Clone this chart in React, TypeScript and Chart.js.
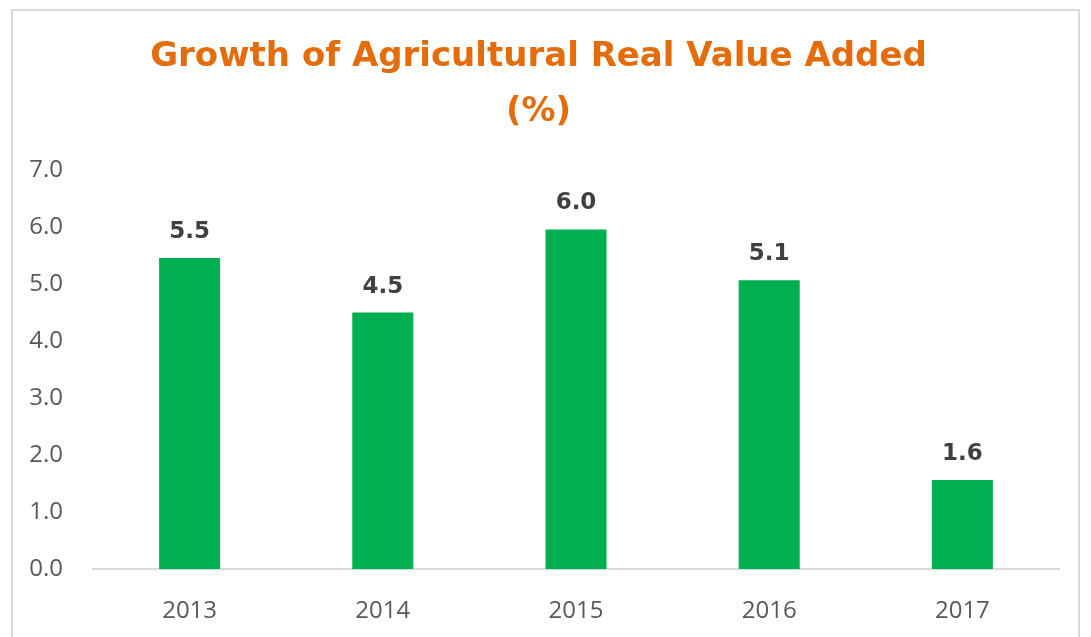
import React, { useEffect, useRef } from "react";
import { Chart, registerables } from "chart.js";

Chart.register(...registerables);

const categories = ["2013", "2014", "2015", "2016", "2017"];
const growthValues = [5.46, 4.5, 5.96, 5.07, 1.56];
const titleLines = ["Growth of Agricultural Real Value Added", "(%)"];

const valueLabelPlugin = {
  id: "valueLabels",
  afterDatasetsDraw(chart: any) {
    const ctx = chart.ctx;
    const meta = chart.getDatasetMeta(0);
    ctx.save();
    ctx.font = "bold 23px 'DejaVu Sans', sans-serif";
    ctx.fillStyle = "#404040";
    ctx.textAlign = "center";
    ctx.textBaseline = "middle";
    meta.data.forEach((bar: any, i: number) => {
      const v = chart.data.datasets[0].data[i] as number;
      ctx.fillText(v.toFixed(1), bar.x, bar.y - 26);
    });
    ctx.restore();
  },
};

export default function App() {
  const ref = useRef<HTMLCanvasElement>(null);
  useEffect(() => {
    if (!ref.current) return;
    const chart = new Chart(ref.current, {
      type: "bar",
      data: {
        labels: categories,
        datasets: [
          {
            data: growthValues,
            backgroundColor: "#00B050",
            borderWidth: 0,
            barPercentage: 0.316,
            categoryPercentage: 1,
          },
        ],
      },
      options: {
        animation: false,
        responsive: false,
        maintainAspectRatio: false,
        layout: { padding: { left: 18, right: 32, top: 0, bottom: 0 } },
        plugins: {
          legend: { display: false },
          tooltip: { enabled: false },
          title: {
            display: true,
            text: titleLines,
            color: "#E46C0A",
            font: { family: "'Comic Sans MS', 'DejaVu Sans', sans-serif", size: 34, weight: "bold", lineHeight: 1.62 },
            padding: { top: 30, bottom: 30 },
          },
        },
        scales: {
          x: {
            grid: { display: false, drawTicks: false },
            border: { display: true, color: "#d9d9d9", width: 2 },
            ticks: {
              color: "#595959",
              font: { family: "'Open Sans', sans-serif", size: 24 },
              padding: 28,
            },
            afterFit(axis: any) {
              axis.height = 68;
            },
          },
          y: {
            min: 0,
            max: 7,
            grid: { display: false, drawTicks: false },
            border: { display: false },
            ticks: {
              stepSize: 1,
              color: "#595959",
              font: { family: "'Open Sans', sans-serif", size: 24 },
              padding: 30,
              callback: (v: any) => Number(v).toFixed(1),
            },
            afterFit(axis: any) {
              axis.width = 75;
            },
          },
        },
      },
      plugins: [valueLabelPlugin],
    });
    return () => chart.destroy();
  }, []);

  return (
    <div style={{ position: "fixed", left: 0, top: 0, width: 1091, height: 637, background: "#fff", overflow: "hidden" }}>
      <div
        style={{
          position: "absolute",
          left: 11,
          top: 9,
          width: 1069,
          height: 660,
          border: "2px solid #d9d9d9",
          boxSizing: "border-box",
        }}
      />
      <canvas ref={ref} width={1091} height={637} style={{ position: "absolute", left: 0, top: 0 }} />
    </div>
  );
}
